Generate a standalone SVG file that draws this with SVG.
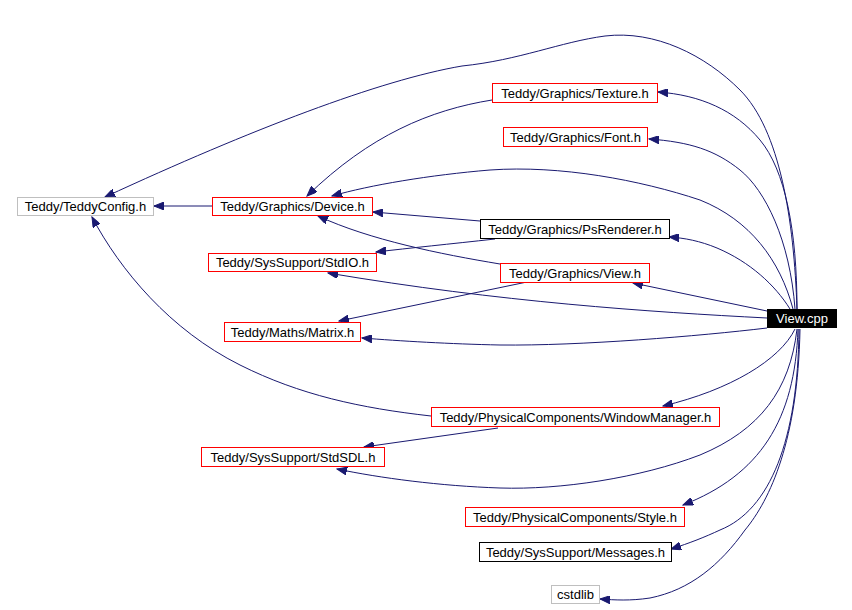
<svg xmlns="http://www.w3.org/2000/svg" width="852" height="610" viewBox="0 0 852 610">
<defs>
<marker id="ah" markerUnits="userSpaceOnUse" markerWidth="11" markerHeight="8" refX="10" refY="4" orient="auto">
<path d="M0,0 L10,4 L0,8 z" fill="#191970" stroke="#191970" stroke-width="1"/>
</marker>
<style>
.n rect{fill:#fff;stroke-width:1}
.red rect{stroke:#ff0000}
.gray rect{stroke:#bfbfbf}
.blk rect{stroke:#000}
.n text{font-family:"Liberation Sans",Arial,sans-serif;font-size:13px;fill:#000;text-anchor:middle}
#edges path{fill:none;stroke:#191970;stroke-width:1;marker-end:url(#ah)}
</style>
</defs>
<rect width="852" height="610" fill="#fff"/>
<g id="edges">
<path d="M797,309 C794,220 780,130 740,90 C705,55 655,30 605,36 C560,42 520,60 462,66 C380,80 250,130 105,197"/>
<path d="M797,309 C797,230 785,170 760,140 C735,110 700,95 658,92"/>
<path d="M795,309 C790,240 765,190 740,170 C715,150 690,142 649,139"/>
<path d="M793,309 C780,260 750,220 700,200 C640,180 560,165 490,170 C430,175 370,185 332,196"/>
<path d="M492,100 C430,110 370,135 307,196"/>
<path d="M480,221 L373,212"/>
<path d="M495,239 C450,244 410,248 376,252"/>
<path d="M500,264 C440,254 370,240 318,216"/>
<path d="M527,282 L339,321"/>
<path d="M767,311 L633,283"/>
<path d="M790,309 C775,285 750,262 717,248 C700,241 685,238 669,237"/>
<path d="M767,318 C650,312 500,302 328,273"/>
<path d="M767,328 C700,336 580,346 500,345 C450,344 400,341 362,338"/>
<path d="M431,416 C360,408 300,395 240,365 C170,330 120,270 92,217"/>
<path d="M795,329 C780,360 730,390 663,406"/>
<path d="M498,428 L364,447"/>
<path d="M797,329 C790,390 760,430 700,455 C640,478 560,490 500,488 C440,486 380,478 337,469"/>
<path d="M798,329 C795,420 760,475 683,505"/>
<path d="M799,329 C798,440 770,510 720,530 C705,537 690,543 671,549"/>
<path d="M800,329 C798,440 770,500 745,530 C720,565 690,590 650,598 C630,601 615,600 600,599"/>
<path d="M212,206 L154,206"/>
</g>
<g id="n_teddyconfig" class="n gray"><rect x="17.5" y="197.5" width="136" height="18"/><text x="85.5" y="211">Teddy/TeddyConfig.h</text></g>
<g id="n_device" class="n red"><rect x="212.5" y="197.5" width="160" height="18"/><text x="292.5" y="211">Teddy/Graphics/Device.h</text></g>
<g id="n_texture" class="n red"><rect x="492.5" y="83.5" width="165" height="19"/><text x="575" y="97.5">Teddy/Graphics/Texture.h</text></g>
<g id="n_font" class="n red"><rect x="503.5" y="127.5" width="144" height="19"/><text x="575.5" y="141.5">Teddy/Graphics/Font.h</text></g>
<g id="n_psrenderer" class="n blk"><rect x="480.5" y="219.5" width="189" height="19"/><text x="575" y="233.5">Teddy/Graphics/PsRenderer.h</text></g>
<g id="n_stdio" class="n red"><rect x="208.5" y="253.5" width="168" height="18"/><text x="292.5" y="267">Teddy/SysSupport/StdIO.h</text></g>
<g id="n_viewh" class="n red"><rect x="500.5" y="263.5" width="149" height="19"/><text x="575" y="277.5">Teddy/Graphics/View.h</text></g>
<g id="n_viewcpp"><rect x="767" y="309" width="70" height="19" fill="#000"/><text x="802" y="323" fill="#fff" style="font-family:'Liberation Sans',Arial,sans-serif;font-size:13px;text-anchor:middle">View.cpp</text></g>
<g id="n_matrix" class="n red"><rect x="224.5" y="322.5" width="136" height="19"/><text x="292.5" y="336.5">Teddy/Maths/Matrix.h</text></g>
<g id="n_windowmanager" class="n red"><rect x="431.5" y="407.5" width="288" height="19"/><text x="575.5" y="421.5">Teddy/PhysicalComponents/WindowManager.h</text></g>
<g id="n_stdsdl" class="n red"><rect x="201.5" y="447.5" width="183" height="19"/><text x="293" y="461.5">Teddy/SysSupport/StdSDL.h</text></g>
<g id="n_style" class="n red"><rect x="465.5" y="507.5" width="219" height="19"/><text x="575" y="521.5">Teddy/PhysicalComponents/Style.h</text></g>
<g id="n_messages" class="n blk"><rect x="479.5" y="542.5" width="192" height="19"/><text x="575.5" y="556.5">Teddy/SysSupport/Messages.h</text></g>
<g id="n_cstdlib" class="n gray"><rect x="551.5" y="585.5" width="48" height="18"/><text x="575.5" y="599">cstdlib</text></g>
</svg>
